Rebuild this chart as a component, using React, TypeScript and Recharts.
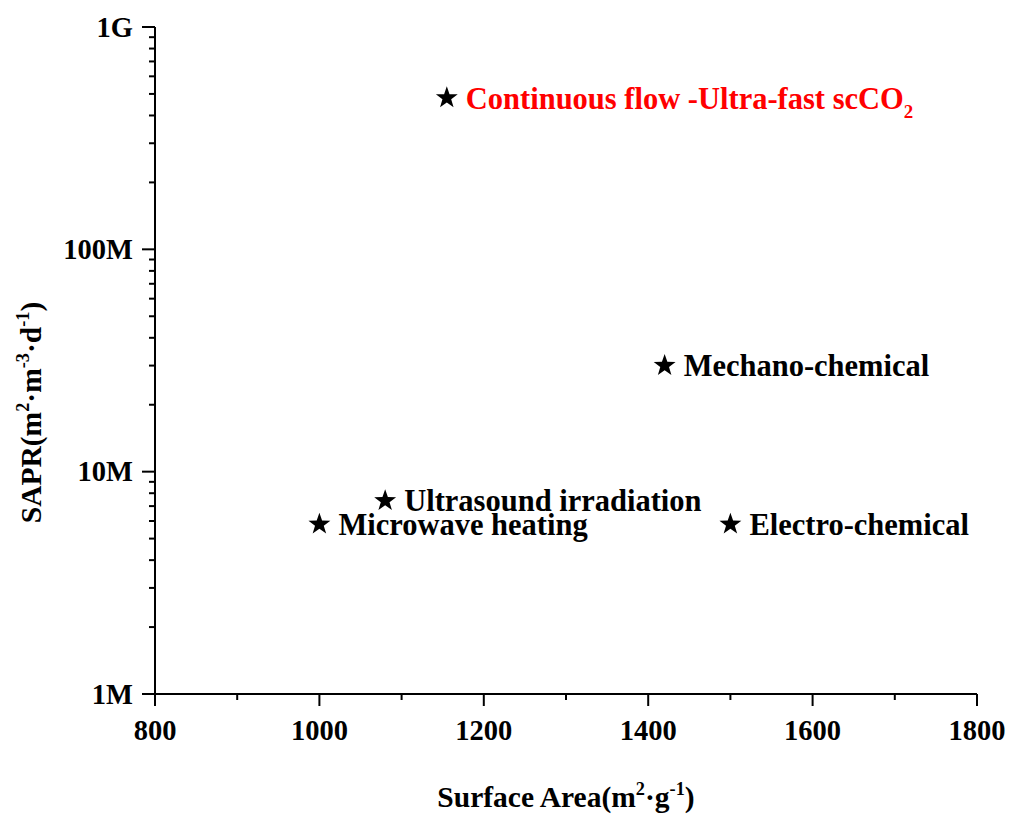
import React from 'react'
import { ScatterChart, Scatter, XAxis, YAxis } from 'recharts'

// synthesis routes: surface area vs. space-time yield (SAPR)
const methods = [
  'Continuous flow -Ultra-fast scCO_2',
  'Mechano-chemical',
  'Ultrasound irradiation',
  'Microwave heating',
  'Electro-chemical',
]
const surfaceArea = [1155, 1420, 1080, 1000, 1500]
const sapr = [4.8e8, 3.0e7, 7.4e6, 5.8e6, 5.8e6]
const highlight = [true, false, false, false, false]

const xMajor = [800, 1000, 1200, 1400, 1600, 1800]
const xMinor = [900, 1100, 1300, 1500, 1700]
const yMajor = [1e6, 1e7, 1e8, 1e9]
const yMajorLabels = ['1M', '10M', '100M', '1G']

const yMinor: number[] = []
for (const d of [1e6, 1e7, 1e8]) {
  for (let k = 2; k <= 9; k++) yMinor.push(k * d)
}

const data = methods.map((name, i) => ({
  name,
  x: surfaceArea[i],
  y: sapr[i],
  hot: highlight[i],
}))

const FONT = '"Liberation Serif", "Times New Roman", serif'
const TICK_FS = 28.5
const NOTE_FS = 30.5
const TITLE_FS = 29.5

type Part = [string, '' | 'sup' | 'sub']

const rich = (parts: Part[], size: number) => {
  let shift = 0
  return parts.map(([t, mode], i) => {
    const target = mode === 'sup' ? -0.42 * size : mode === 'sub' ? 0.3 * size : 0
    const dy = target - shift
    shift = target
    return (
      <tspan key={i} dy={dy} fontSize={mode ? size * 0.62 : size}>
        {t}
      </tspan>
    )
  })
}

// "abc_2" -> abc with subscript 2
const parseName = (s: string): Part[] => {
  const [main, sub] = s.split('_')
  return sub ? [[main, ''], [sub, 'sub']] : [[main, '']]
}

const starPath = (cx: number, cy: number, r: number, ri: number) => {
  let d = ''
  for (let i = 0; i < 10; i++) {
    const rad = i % 2 === 0 ? r : ri
    const a = -Math.PI / 2 + (i * Math.PI) / 5
    d += (i === 0 ? 'M' : 'L') + (cx + rad * Math.cos(a)).toFixed(2) + ',' + (cy + rad * Math.sin(a)).toFixed(2)
  }
  return d + 'Z'
}

const StarMark = (props: any) => {
  const { cx, cy, payload } = props
  return (
    <g>
      <path d={starPath(cx, cy, 11.5, 4.6)} fill="#000" />
      <text
        x={cx + 19}
        y={cy + 0.35 * NOTE_FS}
        fontFamily={FONT}
        fontWeight="bold"
        fontSize={NOTE_FS}
        fill={payload.hot ? '#ff0000' : '#000'}
      >
        {rich(parseName(payload.name), NOTE_FS)}
      </text>
    </g>
  )
}

const XTick = (props: any) => {
  const { x, y, payload } = props
  const major = xMajor.includes(payload.value)
  return (
    <g>
      <line x1={x} x2={x} y1={y} y2={y + (major ? 12 : 6)} stroke="#000" strokeWidth={2} />
      {major && (
        <text x={x} y={y + 46} textAnchor="middle" fontFamily={FONT} fontWeight="bold" fontSize={TICK_FS} fill="#000">
          {payload.value}
        </text>
      )}
    </g>
  )
}

const YTick = (props: any) => {
  const { x, y, payload } = props
  const idx = yMajor.indexOf(payload.value)
  const major = idx >= 0
  return (
    <g>
      <line x1={x - (major ? 13 : 6)} x2={x} y1={y} y2={y} stroke="#000" strokeWidth={2} />
      {major && (
        <text x={x - 22} y={y + 0.34 * TICK_FS} textAnchor="end" fontFamily={FONT} fontWeight="bold" fontSize={TICK_FS} fill="#000">
          {yMajorLabels[idx]}
        </text>
      )}
    </g>
  )
}

const xTitle: Part[] = [['Surface Area(m', ''], ['2', 'sup'], ['·g', ''], ['-1', 'sup'], [')', '']]
const yTitle: Part[] = [
  ['SAPR(m', ''], ['2', 'sup'], ['·m', ''], ['-3', 'sup'], ['·d', ''], ['-1', 'sup'], [')', ''],
]

const XTitle = (props: any) => {
  const { x, y, width } = props.viewBox
  return (
    <text x={x + width / 2} y={y + 113} textAnchor="middle" fontFamily={FONT} fontWeight="bold" fontSize={TITLE_FS} fill="#000">
      {rich(xTitle, TITLE_FS)}
    </text>
  )
}

const YTitle = (props: any) => {
  const { x, y, height } = props.viewBox
  const cx = x + 41
  const cy = y + height / 2 + 52
  return (
    <text
      x={cx}
      y={cy}
      transform={`rotate(-90 ${cx} ${cy})`}
      textAnchor="middle"
      fontFamily={FONT}
      fontWeight="bold"
      fontSize={TITLE_FS}
      fill="#000"
    >
      {rich(yTitle, TITLE_FS)}
    </text>
  )
}

const axisLine = { stroke: '#000', strokeWidth: 2 }

export default function App() {
  return (
    <div style={{ position: 'absolute', left: 0, top: 0, background: '#fff' }}>
      <ScatterChart width={1011} height={818} margin={{ top: 27, right: 34, bottom: 0, left: 0 }}>
        <XAxis
          dataKey="x"
          type="number"
          domain={[800, 1800]}
          ticks={[...xMajor, ...xMinor].sort((a, b) => a - b)}
          interval={0}
          height={124}
          tickSize={0}
          tickMargin={0}
          tickLine={false}
          axisLine={axisLine}
          tick={XTick}
          label={{ content: XTitle }}
        />
        <YAxis
          dataKey="y"
          type="number"
          scale="log"
          domain={[1e6, 1e9]}
          allowDataOverflow
          ticks={[...yMajor, ...yMinor].sort((a, b) => a - b)}
          interval={0}
          width={155}
          tickSize={0}
          tickMargin={0}
          tickLine={false}
          axisLine={axisLine}
          tick={YTick}
          label={{ content: YTitle }}
        />
        {/* plain frame on top and right */}
        <XAxis
          xAxisId="frame"
          orientation="top"
          type="number"
          domain={[0, 1]}
          height={0}
          tick={false}
          tickLine={false}
          axisLine={axisLine}
        />
        <YAxis
          yAxisId="frame"
          orientation="right"
          type="number"
          domain={[0, 1]}
          width={0}
          tick={false}
          tickLine={false}
          axisLine={axisLine}
        />
        <Scatter data={data} shape={StarMark} isAnimationActive={false} />
      </ScatterChart>
    </div>
  )
}
